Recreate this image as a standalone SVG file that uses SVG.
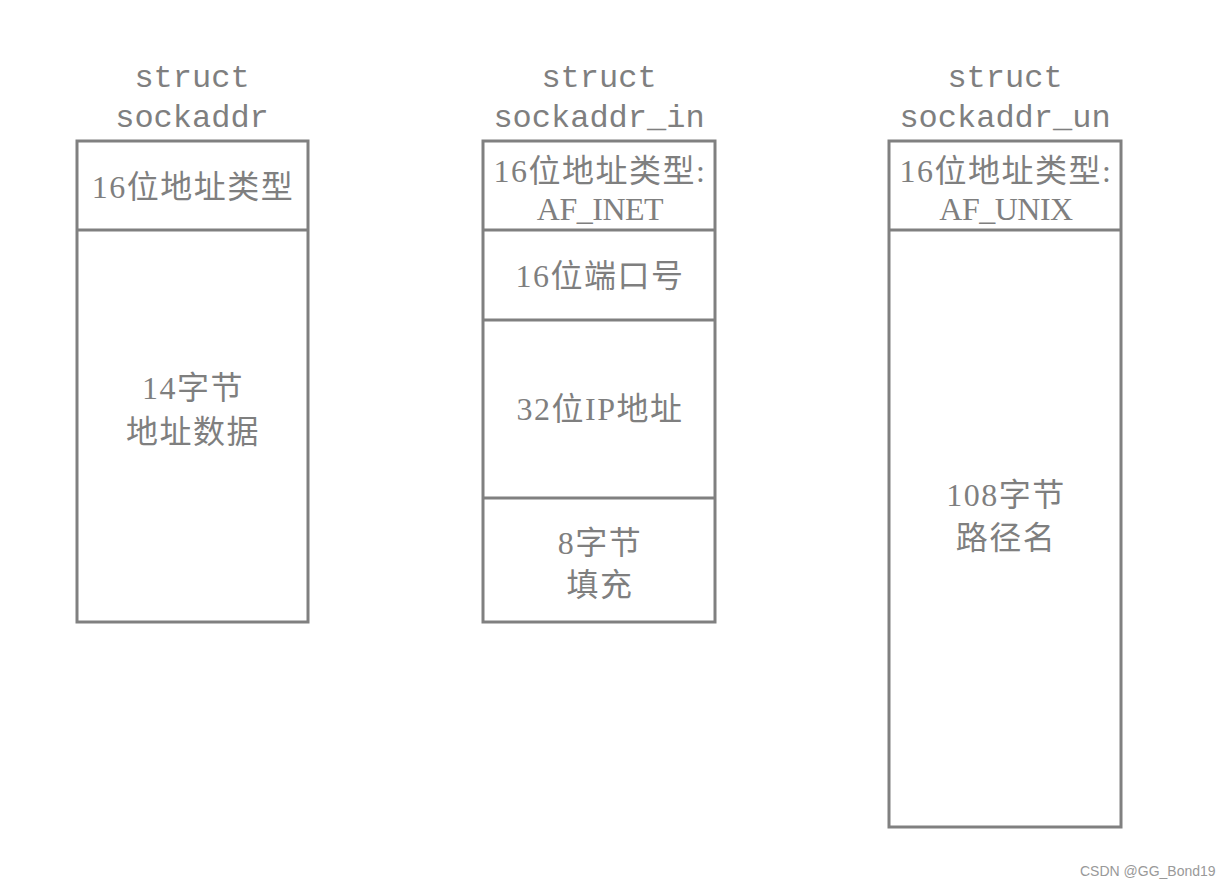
<svg xmlns="http://www.w3.org/2000/svg" width="1228" height="887" viewBox="0 0 1228 887">
<style>
.box{fill:#fff;stroke:#808080;stroke-width:3}
.div{stroke:#808080;stroke-width:3}
.t{font-family:"Liberation Serif","Noto Sans CJK SC",serif;font-size:32px;fill:#7f7f7f;text-anchor:middle;dominant-baseline:central;letter-spacing:1.5px}
.af{letter-spacing:-0.5px}
.m{font-family:"Liberation Mono",monospace;font-size:32px;fill:#7f7f7f;text-anchor:middle}
.w{font-family:"Liberation Sans",Arial,sans-serif;font-size:14px;fill:#999}
</style>
<rect width="1228" height="887" fill="#fff"/>
<g id="sockaddr">
<text class="m" x="192" y="87">struct</text>
<text class="m" x="192" y="127">sockaddr</text>
<rect class="box" x="77" y="141" width="231" height="481"/>
<line class="div" x1="77" y1="230" x2="308" y2="230"/>
<text class="t" x="193" y="187">16位地址类型</text>
<text class="t" x="193" y="388">14字节</text>
<text class="t" x="193" y="432">地址数据</text>
</g>
<g id="sockaddr_in">
<text class="m" x="599" y="87">struct</text>
<text class="m" x="599" y="127">sockaddr_in</text>
<rect class="box" x="483" y="141" width="232" height="481"/>
<line class="div" x1="483" y1="230" x2="715" y2="230"/>
<line class="div" x1="483" y1="320" x2="715" y2="320"/>
<line class="div" x1="483" y1="498" x2="715" y2="498"/>
<text class="t" x="600" y="171">16位地址类型:</text>
<text class="t af" x="600" y="209">AF_INET</text>
<text class="t" x="600" y="276">16位端口号</text>
<text class="t" x="600" y="409">32位IP地址</text>
<text class="t" x="600" y="543">8字节</text>
<text class="t" x="600" y="585">填充</text>
</g>
<g id="sockaddr_un">
<text class="m" x="1005" y="87">struct</text>
<text class="m" x="1005" y="127">sockaddr_un</text>
<rect class="box" x="889" y="141" width="232" height="686"/>
<line class="div" x1="889" y1="230" x2="1121" y2="230"/>
<text class="t" x="1006" y="171">16位地址类型:</text>
<text class="t af" x="1006" y="209">AF_UNIX</text>
<text class="t" x="1006" y="495">108字节</text>
<text class="t" x="1006" y="538">路径名</text>
</g>
<g id="connectors"></g>
<text class="w" x="1080" y="876">CSDN @GG_Bond19</text>
</svg>
